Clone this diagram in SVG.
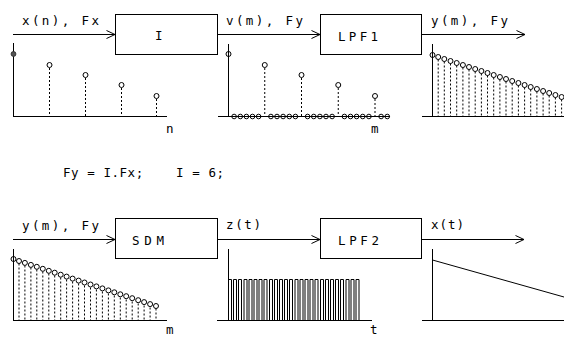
<svg xmlns="http://www.w3.org/2000/svg" width="564" height="338" viewBox="0 0 564 338">
<defs>
<style>
.box{fill:#fff;stroke:#000;stroke-width:1}
.wire{stroke:#000;stroke-width:1;fill:none}
.ax{stroke:#000;stroke-width:1;fill:none}
.stem{stroke:#000;stroke-width:1;stroke-dasharray:2 2;fill:none}
.pt{fill:none;stroke:#000;stroke-width:1}
.sig{stroke:#000;stroke-width:1;fill:none}
text{font-family:"DejaVu Sans Mono","Liberation Mono",monospace;font-size:12.5px;fill:#000}
</style>
<marker id="arr" markerWidth="10" markerHeight="10" refX="9" refY="5" orient="auto" markerUnits="userSpaceOnUse">
<polyline points="0.5,1 9,5 0.5,9" fill="none" stroke="#000" stroke-width="1"/>
</marker>
</defs>

<g id="connectors">
<line class="wire" x1="13" y1="34.5" x2="115" y2="34.5" marker-end="url(#arr)"/>
<line class="wire" x1="218" y1="34.5" x2="320" y2="34.5" marker-end="url(#arr)"/>
<line class="wire" x1="422" y1="34.5" x2="525" y2="34.5" marker-end="url(#arr)"/>
<line class="wire" x1="13" y1="239.5" x2="115" y2="239.5" marker-end="url(#arr)"/>
<line class="wire" x1="218" y1="239.5" x2="320" y2="239.5" marker-end="url(#arr)"/>
<line class="wire" x1="422" y1="239.5" x2="524" y2="239.5" marker-end="url(#arr)"/>
<text x="22" y="25" textLength="77" lengthAdjust="spacing">x(n), Fx</text>
<text x="226" y="25" textLength="77" lengthAdjust="spacing">v(m), Fy</text>
<text x="431" y="25" textLength="77" lengthAdjust="spacing">y(m), Fy</text>
<text x="22" y="230" textLength="77" lengthAdjust="spacing">y(m), Fy</text>
<text x="226" y="229" textLength="35" lengthAdjust="spacing">z(t)</text>
<text x="431" y="229" textLength="33" lengthAdjust="spacing">x(t)</text>
</g>

<g id="node-I">
<rect class="box" x="115.5" y="14.5" width="102" height="40"/>
<text x="155" y="40">I</text>
</g>
<g id="node-LPF1">
<rect class="box" x="320.5" y="14.5" width="101" height="40"/>
<text x="338" y="41" textLength="40" lengthAdjust="spacing">LPF1</text>
</g>
<g id="node-SDM">
<rect class="box" x="115.5" y="218.5" width="102" height="40"/>
<text x="132" y="245" textLength="32" lengthAdjust="spacing">SDM</text>
</g>
<g id="node-LPF2">
<rect class="box" x="320.5" y="218.5" width="101" height="40"/>
<text x="338" y="245" textLength="41" lengthAdjust="spacing">LPF2</text>
</g>

<g id="chart-xn">
<path class="ax" d="M13.5,43 V116.5 M13,116.5 H167"/>
<path class="stem" d="M49.5,68 V116 M85.5,78 V116 M121.5,88 V116 M156.5,99 V116"/>
<circle cx="13.5" cy="54" r="2.4" fill="#555" stroke="#333"/>
<circle class="pt" cx="49.5" cy="65" r="2.5"/>
<circle class="pt" cx="85.5" cy="75" r="2.5"/>
<circle class="pt" cx="121.5" cy="85" r="2.5"/>
<circle class="pt" cx="156.5" cy="96" r="2.5"/>
<text x="166" y="133">n</text>
</g>

<g id="chart-vm">
<path class="ax" d="M228.5,44 V116.5 M218,116.5 H390"/>
<path class="stem" d="M264.75,68 V116 M301.5,78 V116 M338.25,88 V116 M375,99 V116"/>
<circle class="pt" cx="228.5" cy="54" r="2.5"/>
<circle class="pt" cx="264.75" cy="65" r="2.5"/>
<circle class="pt" cx="301.5" cy="75" r="2.5"/>
<circle class="pt" cx="338.25" cy="85" r="2.5"/>
<circle class="pt" cx="375" cy="96" r="2.5"/>
<g class="pt">
<circle cx="234.1" cy="116.5" r="2.3"/><circle cx="240.3" cy="116.5" r="2.3"/><circle cx="246.4" cy="116.5" r="2.3"/><circle cx="252.5" cy="116.5" r="2.3"/><circle cx="258.6" cy="116.5" r="2.3"/>
<circle cx="270.9" cy="116.5" r="2.3"/><circle cx="277" cy="116.5" r="2.3"/><circle cx="283.1" cy="116.5" r="2.3"/><circle cx="289.3" cy="116.5" r="2.3"/><circle cx="295.4" cy="116.5" r="2.3"/>
<circle cx="307.6" cy="116.5" r="2.3"/><circle cx="313.75" cy="116.5" r="2.3"/><circle cx="319.9" cy="116.5" r="2.3"/><circle cx="326" cy="116.5" r="2.3"/><circle cx="332.1" cy="116.5" r="2.3"/>
<circle cx="344.4" cy="116.5" r="2.3"/><circle cx="350.5" cy="116.5" r="2.3"/><circle cx="356.6" cy="116.5" r="2.3"/><circle cx="362.75" cy="116.5" r="2.3"/><circle cx="368.9" cy="116.5" r="2.3"/>
<circle cx="381.1" cy="116.5" r="2.3"/><circle cx="387.25" cy="116.5" r="2.3"/>
</g>
<text x="371" y="133">m</text>
</g>

<g id="chart-ym-top">
<path class="ax" d="M432.5,44 V116.5 M422,116.5 H564"/>
<path class="stem" d="M438.2,59.5 V116 M444.3,61.5 V116 M450.5,63.5 V116 M456.7,65.5 V116 M462.9,67.5 V116 M469,69.5 V116 M475.2,71.5 V116 M481.4,73.5 V116 M487.5,75.5 V116 M493.7,77.5 V116 M499.9,79.5 V116 M506,81.5 V116 M512.2,83.5 V116 M518.4,85.5 V116 M524.6,87.5 V116 M530.7,89.5 V116 M536.9,91.5 V116 M543.1,93.5 V116 M549.2,95.5 V116 M555.4,97.5 V116 M561.6,99.5 V116"/>
<g class="pt">
<circle cx="432.5" cy="55" r="2.5"/><circle cx="438.2" cy="57" r="2.5"/><circle cx="444.3" cy="59" r="2.5"/><circle cx="450.5" cy="61" r="2.5"/><circle cx="456.7" cy="63" r="2.5"/><circle cx="462.9" cy="65" r="2.5"/><circle cx="469" cy="67" r="2.5"/><circle cx="475.2" cy="69" r="2.5"/><circle cx="481.4" cy="71" r="2.5"/><circle cx="487.5" cy="73" r="2.5"/><circle cx="493.7" cy="75" r="2.5"/><circle cx="499.9" cy="77" r="2.5"/><circle cx="506" cy="79" r="2.5"/><circle cx="512.2" cy="81" r="2.5"/><circle cx="518.4" cy="83" r="2.5"/><circle cx="524.6" cy="85" r="2.5"/><circle cx="530.7" cy="87" r="2.5"/><circle cx="536.9" cy="89" r="2.5"/><circle cx="543.1" cy="91" r="2.5"/><circle cx="549.2" cy="93" r="2.5"/><circle cx="555.4" cy="95" r="2.5"/><circle cx="561.6" cy="97" r="2.5"/>
</g>
</g>

<text id="formula" x="63" y="177" textLength="161" lengthAdjust="spacing" xml:space="preserve">Fy = I.Fx;    I = 6;</text>

<g id="chart-ym-bottom">
<path class="ax" d="M13.5,249 V320.5 M13,320.5 H167"/>
<path class="stem" d="M19,263.5 V320 M24.9,265.5 V320 M30.9,267.5 V320 M36.8,269.5 V320 M42.8,271.5 V320 M48.8,273.5 V320 M54.7,275.5 V320 M60.7,277.5 V320 M66.6,279.5 V320 M72.6,281.5 V320 M78.6,283.5 V320 M84.5,285.5 V320 M90.5,287.5 V320 M96.4,289.5 V320 M102.4,291.5 V320 M108.4,293.5 V320 M114.3,295.5 V320 M120.3,297.5 V320 M126.2,299.5 V320 M132.2,301.5 V320 M138.2,303.5 V320 M144.1,305.5 V320 M150.1,307.5 V320 M156,308.5 V320"/>
<g class="pt">
<circle cx="13.5" cy="259" r="2.5"/><circle cx="19" cy="261" r="2.5"/><circle cx="24.9" cy="262.9" r="2.5"/><circle cx="30.9" cy="264.9" r="2.5"/><circle cx="36.8" cy="266.8" r="2.5"/><circle cx="42.8" cy="268.8" r="2.5"/><circle cx="48.8" cy="270.8" r="2.5"/><circle cx="54.7" cy="272.7" r="2.5"/><circle cx="60.7" cy="274.7" r="2.5"/><circle cx="66.6" cy="276.6" r="2.5"/><circle cx="72.6" cy="278.6" r="2.5"/><circle cx="78.6" cy="280.6" r="2.5"/><circle cx="84.5" cy="282.5" r="2.5"/><circle cx="90.5" cy="284.5" r="2.5"/><circle cx="96.4" cy="286.4" r="2.5"/><circle cx="102.4" cy="288.4" r="2.5"/><circle cx="108.4" cy="290.4" r="2.5"/><circle cx="114.3" cy="292.3" r="2.5"/><circle cx="120.3" cy="294.3" r="2.5"/><circle cx="126.2" cy="296.2" r="2.5"/><circle cx="132.2" cy="298.2" r="2.5"/><circle cx="138.2" cy="300.2" r="2.5"/><circle cx="144.1" cy="302.1" r="2.5"/><circle cx="150.1" cy="304.1" r="2.5"/><circle cx="156" cy="306" r="2.5"/>
</g>
<text x="166" y="334">m</text>
</g>

<g id="chart-zt">
<path class="ax" d="M228.5,249 V320.5 M217,320.5 H372"/>
<path class="sig" d="M228.5,320 V279.5 H231.5 V320 M233.5,320 V279.5 H236.5 V320 M238.5,320 V279.5 H241.5 V320 M244,320 V279.5 H247 V320 M249,320 V279.5 H252 V320 M254,320 V279.5 H257 V320 M259,320 V279.5 H262 V320 M264,320 V279.5 H267 V320 M269.5,320 V279.5 H272.5 V320 M274.5,320 V279.5 H277.5 V320 M279.5,320 V279.5 H282.5 V320 M284.5,320 V279.5 H287.5 V320 M289.5,320 V279.5 H292.5 V320 M295,320 V279.5 H298 V320 M300,320 V279.5 H303 V320 M305,320 V279.5 H308 V320 M310,320 V279.5 H313 V320 M315,320 V279.5 H318 V320 M320.5,320 V279.5 H323.5 V320 M325.5,320 V279.5 H328.5 V320 M330.5,320 V279.5 H333.5 V320 M335.5,320 V279.5 H338.5 V320 M340.5,320 V279.5 H343.5 V320 M346,320 V279.5 H349 V320 M351,320 V279.5 H354 V320 M356,320 V279.5 H359 V320"/>
<text x="370" y="334">t</text>
</g>

<g id="chart-xt">
<path class="ax" d="M432.5,249 V320.5 M422,320.5 H564"/>
<line class="sig" x1="432.5" y1="260" x2="564" y2="297"/>
</g>
</svg>
